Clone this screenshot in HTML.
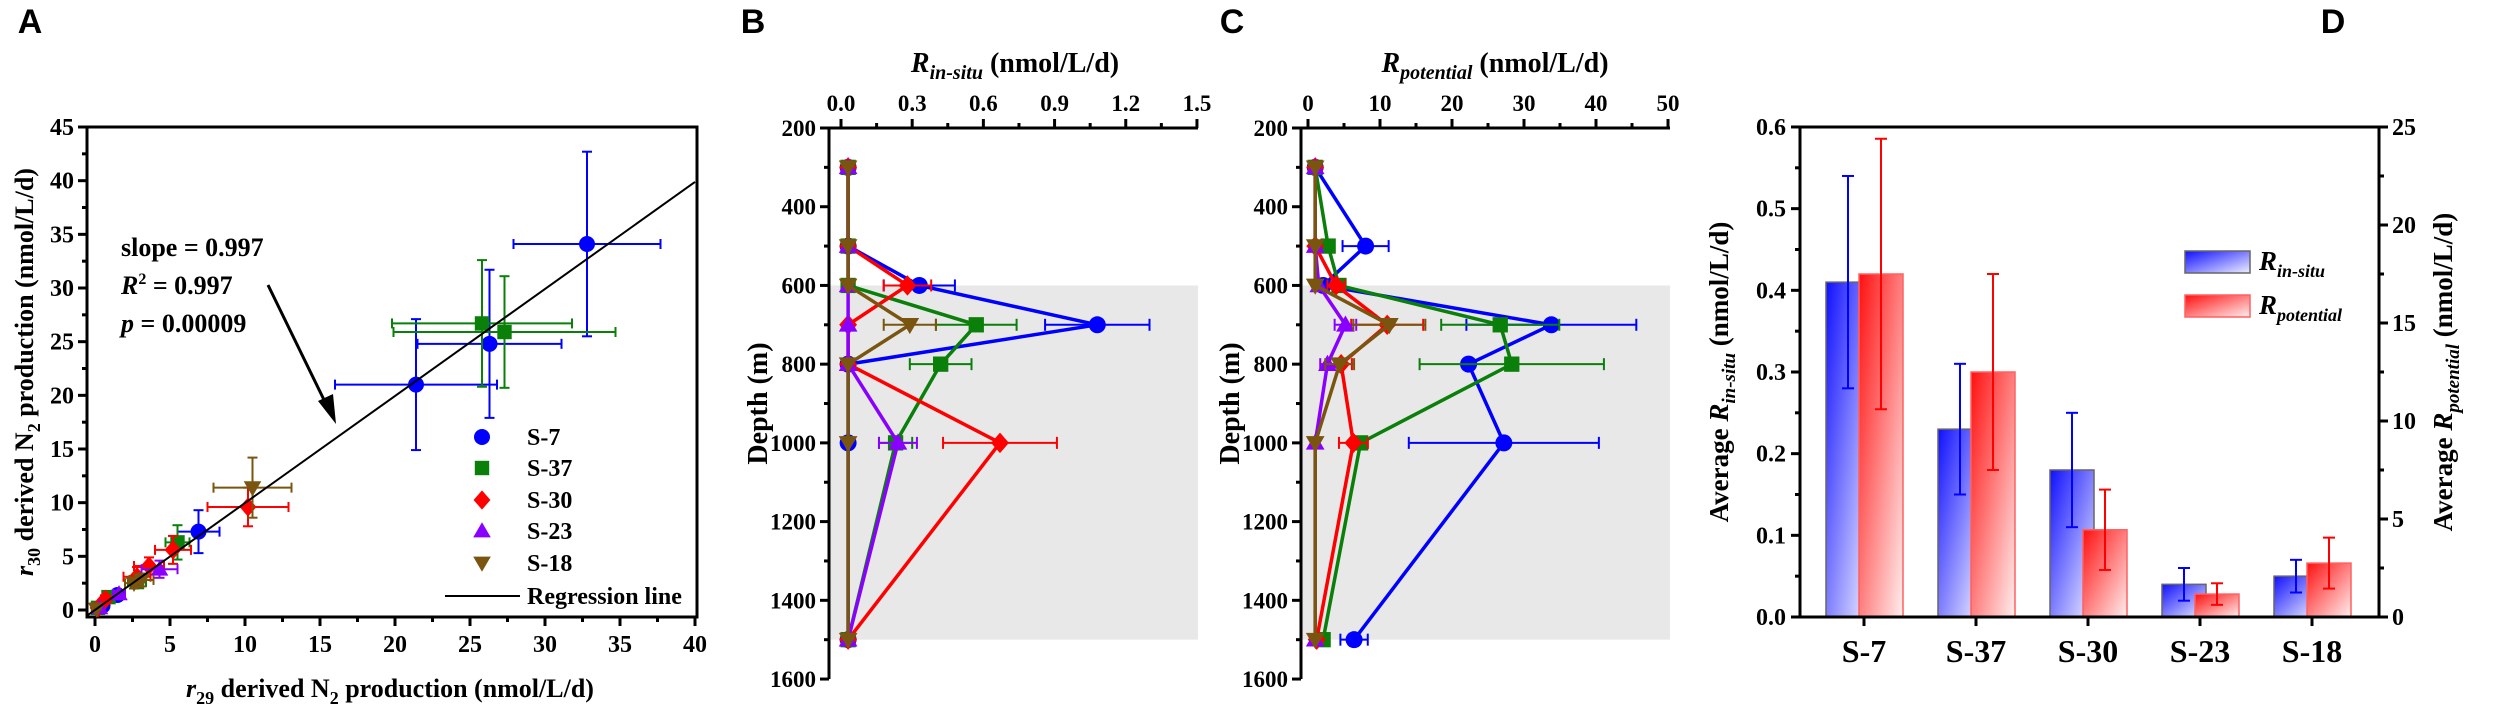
<!DOCTYPE html>
<html><head><meta charset="utf-8"><style>
html,body{margin:0;padding:0;background:#fff}
svg{display:block}
text{font-family:"Liberation Serif",serif;font-weight:bold;fill:#000}
.lt{font-family:"Liberation Sans",sans-serif;font-weight:bold;font-size:34px}
</style></head><body>
<svg id="fig" width="2500" height="705" viewBox="0 0 2500 705" xmlns="http://www.w3.org/2000/svg">
<defs>
<linearGradient id="gBlue" x1="0" y1="0" x2="1" y2="1"><stop offset="0" stop-color="#1010ff"/><stop offset="1" stop-color="#eeeeff"/></linearGradient>
<linearGradient id="gRed" x1="0" y1="0" x2="1" y2="1"><stop offset="0" stop-color="#ff1010"/><stop offset="1" stop-color="#ffeeee"/></linearGradient>
</defs>
<g id="gA"></g>
<g id="gB"></g>
<g id="gC"></g>
<g id="gD"></g>
</svg>
<script>
// ---------- Panel A data ----------
const aSeries = ["S-7","S-37","S-30","S-23","S-18"];
const a7x = [32.8,26.3,21.4,6.9,1.5,0.5];
const a7y = [34.1,24.8,21.0,7.3,1.4,0.4];
const a7xe = [4.9,4.8,5.4,1.4,0.4,0.2];
const a7ye = [8.6,6.9,6.1,2.0,0.4,0.2];
const a37x = [25.8,27.3,5.5,0.9,2.8,0.2];
const a37y = [26.7,25.9,6.3,1.2,2.6,0.2];
const a37xe = [6.0,7.4,0.8,0.3,0.6,0.1];
const a37ye = [5.9,5.2,1.6,0.3,0.5,0.1];
const a30x = [10.2,5.2,3.6,2.8,0.7,0.2];
const a30y = [9.6,5.6,4.1,3.1,1.0,0.2];
const a30xe = [2.7,1.2,1.0,0.9,0.3,0.1];
const a30ye = [1.8,1.3,0.8,0.9,0.3,0.1];
const a23x = [4.3,1.6,0.3];
const a23y = [3.8,1.5,0.2];
const a23xe = [1.2,0.4,0.1];
const a23ye = [0.8,0.3,0.1];
const a18x = [10.5,3.1,2.6,0.1];
const a18y = [11.4,2.8,2.5,0.1];
const a18xe = [2.6,0.8,0.6,0.1];
const a18ye = [2.8,0.6,0.5,0.1];
const aSlope = 0.997;
const aXTicks = [0,5,10,15,20,25,30,35,40];
const aYTicks = [0,5,10,15,20,25,30,35,40,45];
// ---------- Panels B & C data ----------
const depths = [300,500,600,700,800,1000,1500];
const depthTicks = [200,400,600,800,1000,1200,1400,1600];
const bXTicks = [0.0,0.3,0.6,0.9,1.2,1.5];
const b7 = [0.03,0.03,0.33,1.08,0.03,0.03,0.03];
const b7e = [0,0,0.15,0.22,0,0,0];
const b37 = [0.03,0.03,0.03,0.57,0.42,0.23,0.03];
const b37e = [0,0,0,0.17,0.13,0.07,0];
const b30 = [0.03,0.03,0.28,0.03,0.03,0.67,0.03];
const b30e = [0,0,0.1,0,0,0.24,0];
const b23 = [0.03,0.03,0.03,0.03,0.03,0.24,0.03];
const b23e = [0,0,0,0,0,0.08,0];
const b18 = [0.03,0.03,0.03,0.29,0.03,0.03,0.03];
const b18e = [0,0,0,0.11,0,0,0];
const cXTicks = [0,10,20,30,40,50];
const c7 = [1,8,2.1,33.8,22.3,27.2,6.4];
const c7e = [0,3.2,0.5,11.8,0,13.2,1.9];
const c37 = [1,2.8,4.3,26.7,28.3,7.3,2.1];
const c37e = [0,0.5,0.5,8.2,12.8,1,0.3];
const c30 = [1,1,3.9,11,4.6,6.3,1.2];
const c30e = [0,0,1.2,5,1.5,2,0];
const c23 = [1,1,1.5,5.2,2.7,1,1];
const c23e = [0,0,0,1.5,1,0,0];
const c18 = [1,1,1,11.3,4.4,1,1];
const c18e = [0,0,0,5,2,0,0];
// ---------- Panel D data ----------
const dCats = ["S-7","S-37","S-30","S-23","S-18"];
const dInsitu = [0.41,0.23,0.18,0.04,0.05];
const dInsituErr = [0.13,0.08,0.07,0.02,0.02];
const dPot = [17.5,12.5,4.45,1.17,2.75];
const dPotErr = [6.9,5.0,2.05,0.55,1.3];
const dLeftTicks = [0.0,0.1,0.2,0.3,0.4,0.5,0.6];
const dRightTicks = [0,5,10,15,20,25];

const NS = "http://www.w3.org/2000/svg";
function mk(parent, tag, attrs){const e=document.createElementNS(NS,tag);for(const k in attrs)e.setAttribute(k,attrs[k]);parent.appendChild(e);return e;}
function txt(parent, x, y, s, size, anchor){const t=mk(parent,"text",{x:x,y:y,"font-size":size,"text-anchor":anchor||"middle"});t.textContent=s;return t;}
const COL = {"S-7":"#0000ff","S-37":"#0a7f0a","S-30":"#ff0000","S-23":"#8a00ff","S-18":"#7a5510"};
const SHP = {"S-7":"circle","S-37":"square","S-30":"diamond","S-23":"up","S-18":"down"};
function marker(parent,x,y,name,r){
  const c=COL[name],s=SHP[name];let e;
  if(s==="circle")e=mk(parent,"circle",{cx:x,cy:y,r:r,fill:c});
  else if(s==="square")e=mk(parent,"rect",{x:x-r*0.9,y:y-r*0.9,width:r*1.8,height:r*1.8,fill:c});
  else if(s==="diamond")e=mk(parent,"polygon",{points:`${x},${y-r*1.2} ${x+r*1.05},${y} ${x},${y+r*1.2} ${x-r*1.05},${y}`,fill:c});
  else if(s==="up")e=mk(parent,"polygon",{points:`${x},${y-r*1.1} ${x+r*1.1},${y+r*0.8} ${x-r*1.1},${y+r*0.8}`,fill:c});
  else e=mk(parent,"polygon",{points:`${x},${y+r*1.1} ${x+r*1.1},${y-r*0.8} ${x-r*1.1},${y-r*0.8}`,fill:c});
  return e;
}
function hbar(parent,x1,x2,y,col,cap){mk(parent,"line",{x1:x1,y1:y,x2:x2,y2:y,stroke:col,"stroke-width":2});mk(parent,"line",{x1:x1,y1:y-cap,x2:x1,y2:y+cap,stroke:col,"stroke-width":2});mk(parent,"line",{x1:x2,y1:y-cap,x2:x2,y2:y+cap,stroke:col,"stroke-width":2});}
function vbar(parent,x,y1,y2,col,cap){mk(parent,"line",{x1:x,y1:y1,x2:x,y2:y2,stroke:col,"stroke-width":2});mk(parent,"line",{x1:x-cap,y1:y1,x2:x+cap,y2:y1,stroke:col,"stroke-width":2});mk(parent,"line",{x1:x-cap,y1:y2,x2:x+cap,y2:y2,stroke:col,"stroke-width":2});}

// ================= Panel A =================
(function(){
const g=document.getElementById("gA");
const ax=v=>95+v*15, ay=v=>610-v*10.733;
const L=87,R=697,T=127,B=617;
const lt=txt(g,30,33,"A",34);lt.setAttribute("class","lt");


const frame=mk(g,"rect",{x:L,y:T,width:R-L,height:B-T,fill:"none",stroke:"#000","stroke-width":3});


for(let v=0;v<=40;v+=2.5){const maj=v%5===0;mk(g,"line",{x1:ax(v),y1:B,x2:ax(v),y2:B+(maj?9:5),stroke:"#000","stroke-width":3});}
for(let v=0;v<=45;v+=2.5){const maj=v%5===0;mk(g,"line",{x1:L,y1:ay(v),x2:L-(maj?9:5),y2:ay(v),stroke:"#000","stroke-width":3});}
aXTicks.forEach(v=>{const t=txt(g,ax(v),652,String(v),24);

});
aYTicks.forEach(v=>{const t=txt(g,74,ay(v)+8,String(v),24,"end");

});
const xt=mk(g,"text",{x:390,y:697,"font-size":26,"text-anchor":"middle"});
xt.innerHTML='<tspan font-style="italic">r</tspan><tspan font-size="18" dy="7">29</tspan><tspan dy="-7"> derived N</tspan><tspan font-size="18" dy="7">2</tspan><tspan dy="-7"> production (nmol/L/d)</tspan>';


const yt=mk(g,"text",{x:0,y:0,"font-size":26,"text-anchor":"middle",transform:"translate(33,372) rotate(-90)"});
yt.innerHTML='<tspan font-style="italic">r</tspan><tspan font-size="18" dy="7">30</tspan><tspan dy="-7">  derived N</tspan><tspan font-size="18" dy="7">2</tspan><tspan dy="-7"> production (nmol/L/d)</tspan>';


const sets=[["S-7",a7x,a7y,a7xe,a7ye],["S-37",a37x,a37y,a37xe,a37ye],["S-30",a30x,a30y,a30xe,a30ye],["S-23",a23x,a23y,a23xe,a23ye],["S-18",a18x,a18y,a18xe,a18ye]];
sets.forEach(s=>{const [n,xs,ys,xe,ye]=s;const sg=mk(g,"g",{});


xs.forEach((x,i)=>{hbar(sg,ax(x-xe[i]),ax(x+xe[i]),ay(ys[i]),COL[n],5);vbar(sg,ax(x),ay(ys[i]-ye[i]),ay(ys[i]+ye[i]),COL[n],5);});
xs.forEach((x,i)=>{const m=marker(sg,ax(x),ay(ys[i]),n,8);

});});
const rl=mk(g,"line",{x1:ax(-0.5),y1:ay(-0.5*aSlope),x2:ax(40),y2:ay(40*aSlope),stroke:"#000","stroke-width":2});


const s1=txt(g,121,256,"slope = 0.997",26,"start");


const s2=mk(g,"text",{x:121,y:294,"font-size":26});s2.innerHTML='<tspan font-style="italic">R</tspan><tspan font-size="16" dy="-10">2</tspan><tspan dy="10"> = 0.997</tspan>';


const s3=mk(g,"text",{x:121,y:332,"font-size":26});s3.innerHTML='<tspan font-style="italic">p</tspan> = 0.00009';


const ar=mk(g,"g",{});


mk(ar,"line",{x1:268,y1:285,x2:327,y2:406,stroke:"#000","stroke-width":3});
mk(ar,"polygon",{points:"336,424 318,401 333,394",fill:"#000"});
const lg=mk(g,"g",{});


const ly=[437,468,500,531,563];
aSeries.forEach((n,i)=>{const e=mk(lg,"g",{});


marker(e,482,ly[i],n,8);txt(e,527,ly[i]+8,n,24,"start");});
mk(lg,"line",{x1:445,y1:596,x2:520,y2:596,stroke:"#000","stroke-width":2});
txt(lg,527,604,"Regression line",24,"start");
})();

// ================= Panels B & C =================
function depthPanel(gid,L,R,xz,xs,ticks,minorStep,maxV,fmt,series,title,letter,letterX,titleX){
const g=document.getElementById(gid);
const px=v=>xz+v*xs, py=d=>128+(d-200)*0.3936;
const T=128,B=679;
const lt=txt(g,letterX,33,letter,34);lt.setAttribute("class","lt");


const sh=mk(g,"rect",{x:L,y:py(600),width:R-L,height:py(1500)-py(600),fill:"#e8e8e8"});


const ax=mk(g,"path",{d:`M${L},${B} L${L},${T} L${R},${T}`,fill:"none",stroke:"#000","stroke-width":3});


for(let v=0;v<=maxV+1e-9;v+=minorStep){const maj=Math.abs(v/ (minorStep*2)-Math.round(v/(minorStep*2)))<1e-6;mk(g,"line",{x1:px(v),y1:T,x2:px(v),y2:T-(maj?9:5),stroke:"#000","stroke-width":3});}
for(let d=200;d<=1600;d+=100){const maj=d%200===0;mk(g,"line",{x1:L,y1:py(d),x2:L-(maj?9:5),y2:py(d),stroke:"#000","stroke-width":3});}
ticks.forEach(v=>{const t=txt(g,px(v),111,fmt(v),23);

});
depthTicks.forEach(d=>{const t=txt(g,L-13,py(d)+8,String(d),23,"end");

});
const tt=mk(g,"text",{x:titleX,y:72,"font-size":28,"text-anchor":"middle"});tt.innerHTML=title;


const yt=mk(g,"text",{x:0,y:0,"font-size":28,"text-anchor":"middle",transform:`translate(${L-62},${py(900)}) rotate(-90)`});yt.textContent="Depth (m)";


series.forEach(s=>{const [n,vals,errs]=s;const sg=mk(g,"g",{});


const pts=vals.map((v,i)=>px(v)+","+py(depths[i])).join(" ");
mk(sg,"polyline",{points:pts,fill:"none",stroke:COL[n],"stroke-width":3.5});
vals.forEach((v,i)=>{if(errs[i]>0)hbar(sg,px(v-errs[i]),px(v+errs[i]),py(depths[i]),COL[n],6);});
vals.forEach((v,i)=>{const m=marker(sg,px(v),py(depths[i]),n,8.5);

});});
}
depthPanel("gB",829,1198,841,237.3,bXTicks,0.15,1.5,v=>v.toFixed(1),
 [["S-7",b7,b7e],["S-37",b37,b37e],["S-30",b30,b30e],["S-23",b23,b23e],["S-18",b18,b18e]],
 '<tspan font-style="italic">R</tspan><tspan font-style="italic" font-size="20" dy="7">in-situ</tspan><tspan dy="-7"> (nmol/L/d)</tspan>',"B",753,1015);
depthPanel("gC",1301,1670,1308,7.2,cXTicks,5,50,v=>String(v),
 [["S-7",c7,c7e],["S-37",c37,c37e],["S-30",c30,c30e],["S-23",c23,c23e],["S-18",c18,c18e]],
 '<tspan font-style="italic">R</tspan><tspan font-style="italic" font-size="20" dy="7">potential</tspan><tspan dy="-7"> (nmol/L/d)</tspan>',"C",1232,1495);

// ================= Panel D =================
(function(){
const g=document.getElementById("gD");
const L=1800,R=2379,T=127,B=617;
const yl=v=>617-v*816.7, yr=v=>617-v*19.6, cx=i=>1864+112*i;
const bw=44;
const lt=txt(g,2333,33,"D",34);lt.setAttribute("class","lt");


dCats.forEach((c,i)=>{
 const b1=mk(g,"rect",{x:cx(i)-38,y:yl(dInsitu[i]),width:bw,height:B-yl(dInsitu[i]),fill:"url(#gBlue)",stroke:"#666","stroke-width":1.5});
 
 
 const b2=mk(g,"rect",{x:cx(i)-5,y:yr(dPot[i]),width:bw,height:B-yr(dPot[i]),fill:"url(#gRed)",stroke:"#ff6060","stroke-width":1.5});
 
 
});
dCats.forEach((c,i)=>{
 vbar(g,cx(i)-16,yl(dInsitu[i]-dInsituErr[i]),yl(dInsitu[i]+dInsituErr[i]),"#0000ff",6);
 vbar(g,cx(i)+17,yr(dPot[i]-dPotErr[i]),yr(dPot[i]+dPotErr[i]),"#ff0000",6);
});
const fr=mk(g,"rect",{x:L,y:T,width:R-L,height:B-T,fill:"none",stroke:"#000","stroke-width":3});


for(let k=0;k<=12;k++){const v=k*0.05,maj=k%2===0;mk(g,"line",{x1:L,y1:yl(v),x2:L-(maj?9:5),y2:yl(v),stroke:"#000","stroke-width":3});}
for(let k=0;k<=10;k++){const v=k*2.5,maj=k%2===0;mk(g,"line",{x1:R,y1:yr(v),x2:R+(maj?9:5),y2:yr(v),stroke:"#000","stroke-width":3});}
dCats.forEach((c,i)=>{mk(g,"line",{x1:cx(i),y1:B,x2:cx(i),y2:B+9,stroke:"#000","stroke-width":3});
 const t=txt(g,cx(i),662,c,32);
 
 });
dLeftTicks.forEach(v=>{const t=txt(g,1786,yl(v)+8,v.toFixed(1),24,"end");

});
dRightTicks.forEach(v=>{const t=txt(g,2392,yr(v)+8,String(v),24,"start");

});
const ylt=mk(g,"text",{x:0,y:0,"font-size":27,"text-anchor":"middle",transform:"translate(1728,372) rotate(-90)"});
ylt.innerHTML='Average <tspan font-style="italic">R</tspan><tspan font-style="italic" font-size="19" dy="7">in-situ</tspan><tspan dy="-7"> (nmol/L/d)</tspan>';


const yrt=mk(g,"text",{x:0,y:0,"font-size":27,"text-anchor":"middle",transform:"translate(2452,372) rotate(-90)"});
yrt.innerHTML='Average <tspan font-style="italic">R</tspan><tspan font-style="italic" font-size="19" dy="7">potential</tspan><tspan dy="-7"> (nmol/L/d)</tspan>';


const lg=mk(g,"g",{});


mk(lg,"rect",{x:2185,y:251,width:65,height:22,fill:"url(#gBlue)",stroke:"#666","stroke-width":1.5});
mk(lg,"rect",{x:2185,y:295,width:65,height:22,fill:"url(#gRed)",stroke:"#ff6060","stroke-width":1.5});
const l1=mk(lg,"text",{x:2259,y:270,"font-size":27});l1.innerHTML='<tspan font-style="italic">R</tspan><tspan font-style="italic" font-size="18" dy="7">in-situ</tspan>';
const l2=mk(lg,"text",{x:2259,y:314,"font-size":27});l2.innerHTML='<tspan font-style="italic">R</tspan><tspan font-style="italic" font-size="18" dy="7">potential</tspan>';
})();
</script>
</body></html>
